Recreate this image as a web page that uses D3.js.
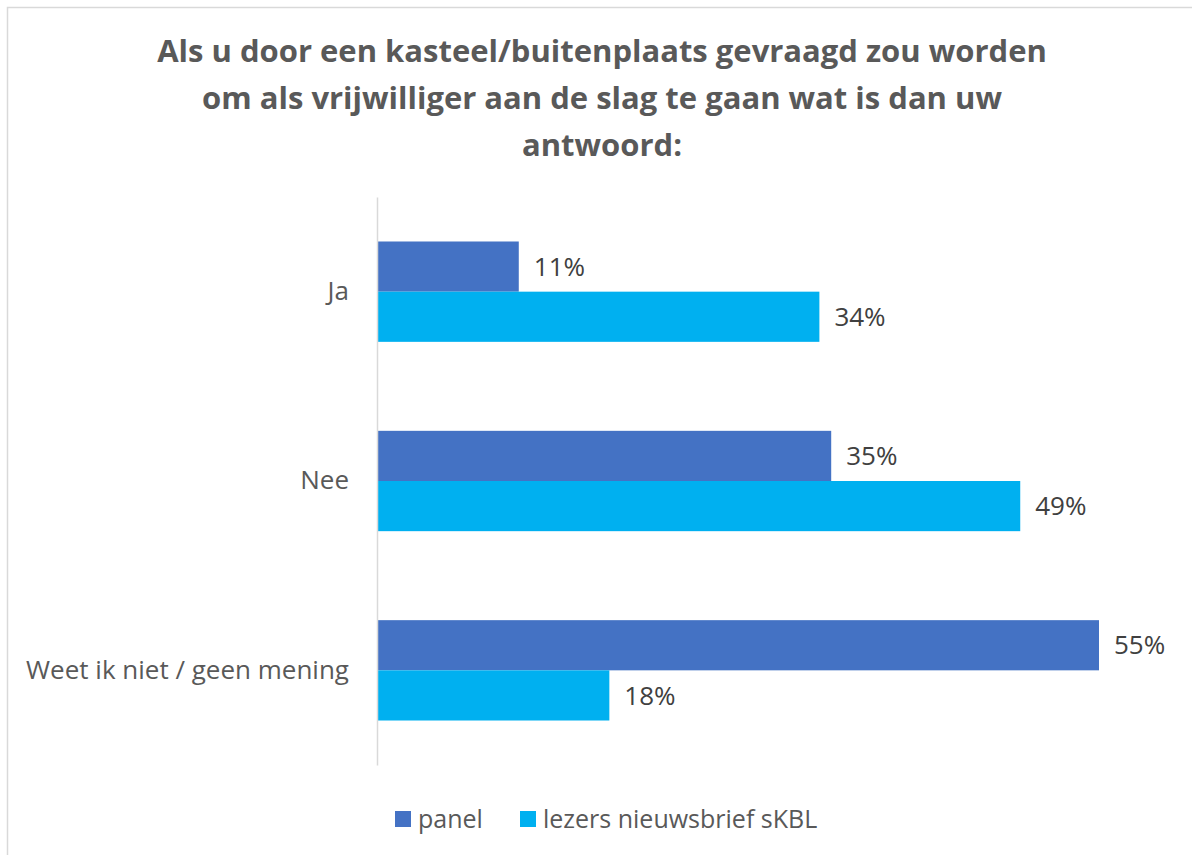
<!DOCTYPE html>
<html>
<head>
<meta charset="utf-8">
<script src="https://cdn.jsdelivr.net/npm/d3@7"></script>
<style>
  body { margin: 0; background: #fff; }
  svg { display: block; font-family: "Open Sans", sans-serif; }
</style>
</head>
<body>
<svg id="chart" width="1192" height="855"></svg>
<script>
// data
var categories = ["Ja", "Nee", "Weet ik niet / geen mening"];
var seriesNames = ["panel", "lezers nieuwsbrief sKBL"];
var panelValues = [0.108, 0.346, 0.550];
var skblValues = [0.337, 0.490, 0.177];
var titleLines = [
    "Als u door een kasteel/buitenplaats gevraagd zou worden",
    "om als vrijwilliger aan de slag te gaan wat is dan uw",
    "antwoord:"
];
var colors = ["#4472C4", "#00B0F0"];

var svg = d3.select("#chart");

// chart border (only top/left visible in the crop)
svg.append("rect")
    .attr("x", 7.5).attr("y", 7.5)
    .attr("width", 1200).attr("height", 900)
    .attr("fill", "none")
    .attr("stroke", "#D9D9D9")
    .attr("stroke-width", 1.5);

// title
svg.append("g").selectAll("text")
    .data(titleLines)
    .enter().append("text")
    .attr("x", 602)
    .attr("y", (d, i) => 62 + i * 47)
    .attr("text-anchor", "middle")
    .attr("font-size", 31)
    .attr("font-weight", "bold")
    .attr("fill", "#595959")
    .text(d => d);

var margin = {left: 377, top: 197, bottom: 765};

var x = d3.scaleLinear()
    .domain([0, 0.55])
    .range([margin.left, margin.left + 722]);

var y = d3.scaleBand()
    .domain(categories)
    .range([margin.top, margin.bottom])
    .paddingInner(0.47)
    .paddingOuter(0.235);

var y1 = d3.scaleBand()
    .domain([0, 1])
    .range([0, y.bandwidth()]);

var rows = categories.map((c, i) => ({cat: c, vals: [panelValues[i], skblValues[i]]}));

var groups = svg.append("g").selectAll("g")
    .data(rows)
    .enter().append("g")
    .attr("transform", d => "translate(0," + y(d.cat) + ")");

groups.selectAll("rect")
    .data(d => d.vals)
    .enter().append("rect")
    .attr("x", x(0))
    .attr("y", (d, i) => y1(i))
    .attr("width", d => x(d) - x(0))
    .attr("height", y1.bandwidth())
    .attr("fill", (d, i) => colors[i]);

groups.selectAll("text.val")
    .data(d => d.vals)
    .enter().append("text")
    .attr("class", "val")
    .attr("x", d => x(d) + 15)
    .attr("y", (d, i) => y1(i) + y1.bandwidth() / 2)
    .attr("dy", "0.35em")
    .attr("font-size", 26)
    .attr("fill", "#404040")
    .text(d => d3.format(".0%")(d));

// category axis
var yAxis = svg.append("g")
    .attr("transform", "translate(" + margin.left + ",0)")
    .call(d3.axisLeft(y).tickSize(0).tickPadding(28));
yAxis.select(".domain").attr("stroke", "#D9D9D9").attr("stroke-width", 1.5);
yAxis.selectAll("text")
    .attr("font-size", 26)
    .attr("font-family", "'Open Sans', sans-serif")
    .attr("fill", "#595959");

// legend
var legendItems = [{name: seriesNames[0], x: 395}, {name: seriesNames[1], x: 520}];
var legend = svg.append("g").selectAll("g")
    .data(legendItems)
    .enter().append("g")
    .attr("transform", d => "translate(" + d.x + ",811)");
legend.append("rect")
    .attr("width", 16).attr("height", 16)
    .attr("fill", (d, i) => colors[i]);
legend.append("text")
    .attr("x", 23).attr("y", 8)
    .attr("dy", "0.35em")
    .attr("font-size", 25)
    .attr("fill", "#595959")
    .text(d => d.name);
</script>
</body>
</html>
